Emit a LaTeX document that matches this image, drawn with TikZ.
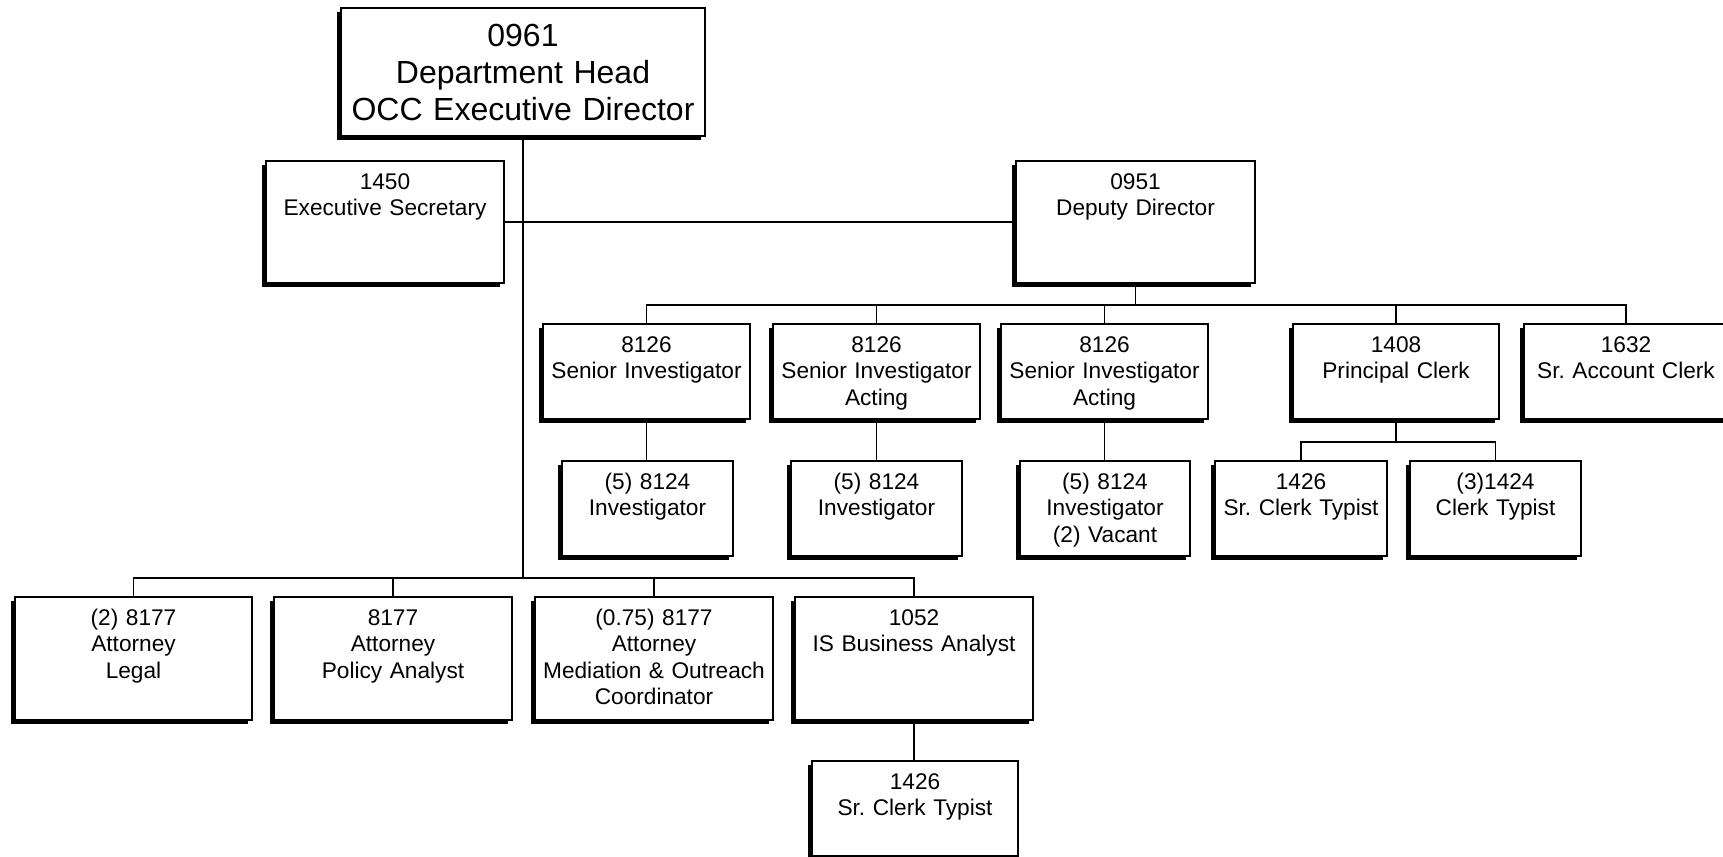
\documentclass[tikz,border=0pt]{standalone}
\usepackage{fontspec}
\setmainfont{Liberation Sans}
\usetikzlibrary{shadows}
\frenchspacing

\tikzset{
  post/.style={draw, line width=0.8pt, fill=white, inner sep=0pt,
    drop shadow={shadow xshift=-0.08cm, shadow yshift=-0.08cm, fill=black, opacity=1}},
  posttext/.style={anchor=base, align=center, text width=7cm, inner sep=0pt,
    font=\fontsize{12.9}{15}\selectfont},
  link/.style={line width=0.8pt}
}

% box from (left,top) to (right,bottom), in pixels
\newcommand\post[6]{%
  \node[post, minimum width={(#4-#2)*0.02cm}, minimum height={(#5-#3)*0.02cm}]
    (#1) at ({(#2+#4)/2},{(#3+#5)/2}) {};
  \node[posttext] (#1-t) at ([yshift=-29*0.02cm]#1.north) {#6};
}

\begin{document}
\begin{tikzpicture}[x=0.02cm,y=-0.02cm]
  \path[use as bounding box, fill=white] (0,0) rectangle (1723,857);

  \node[post, minimum width=364*0.02cm, minimum height=128*0.02cm] (head) at (523,72) {};
  \node[posttext, text width=9cm, font=\fontsize{18.2}{21}\selectfont] (head-t)
    at ([yshift=-39*0.02cm]head.north) {0961\\Department Head\\OCC Executive Director};

  \post{sec}{266}{161}{504}{283}{1450\\Executive Secretary}
  \post{dep}{1016}{161}{1255}{283}{0951\\Deputy Director}

  \post{si1}{543}{324}{750}{419}{8126\\Senior Investigator}
  \post{si2}{773}{324}{980}{419}{8126\\Senior Investigator\\Acting}
  \post{si3}{1001}{324}{1208}{419}{8126\\Senior Investigator\\Acting}
  \post{pc}{1293}{324}{1499}{419}{1408\\Principal Clerk}
  \post{sac}{1524}{324}{1728}{419}{1632\\Sr. Account Clerk}

  \post{inv1}{562}{461}{733}{556}{(5) 8124\\Investigator}
  \post{inv2}{791}{461}{962}{556}{(5) 8124\\Investigator}
  \post{inv3}{1020}{461}{1190}{556}{(5) 8124\\Investigator\\(2) Vacant}
  \post{sct}{1215}{461}{1387}{556}{1426\\Sr. Clerk Typist}
  \post{ct}{1410}{461}{1581}{556}{(3)1424\\Clerk Typist}

  \post{leg}{15}{597}{252}{720}{(2) 8177\\Attorney\\Legal}
  \post{pol}{274}{597}{512}{720}{8177\\Attorney\\Policy Analyst}
  \post{med}{535}{597}{773}{720}{(0.75) 8177\\Attorney\\Mediation \& Outreach\\Coordinator}
  \post{isba}{795}{597}{1033}{720}{1052\\IS Business Analyst}
  \post{sct2}{812}{761}{1018}{856}{1426\\Sr. Clerk Typist}

  % connectors
  \coordinate (bar) at (523,578);
  \coordinate (dbar) at (1135.5,305);
  \coordinate (cbar) at (1396,442);
  \draw[link] (head.south) -- (bar);
  \draw[link] (sec.east) -- (dep.west);
  \foreach \c in {leg,pol,med,isba}
    \draw[link] (bar) -| (\c.north);
  \draw[link] (dep.south) -- (dbar);
  \foreach \c in {si1,si2,si3,pc,sac}
    \draw[link] (dbar) -| (\c.north);
  \foreach \a/\b in {si1/inv1,si2/inv2,si3/inv3}
    \draw[link] (\a.south) -- (\a.south |- \b.north);
  \draw[link] (pc.south) -- (cbar);
  \foreach \c in {sct,ct}
    \draw[link] (cbar) -| (\c.north);
  \draw[link] (isba.south) -- (isba.south |- sct2.north);
\end{tikzpicture}
\end{document}
